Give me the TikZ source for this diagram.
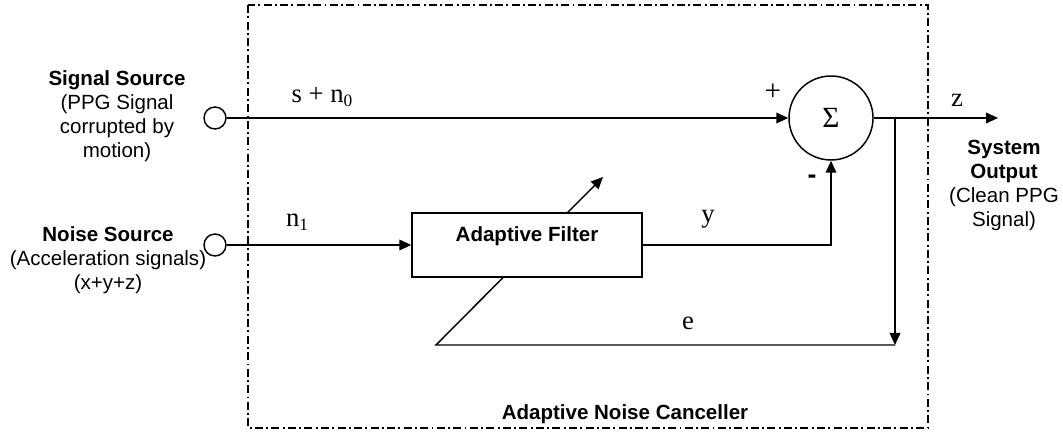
\documentclass[tikz,border=0pt]{standalone}
\usepackage{fontspec}
\setmainfont{Liberation Sans}
\newfontfamily\serifface{Liberation Serif}
\usetikzlibrary{arrows.meta}
\begin{document}
\begin{tikzpicture}[x=0.75pt,y=-0.75pt,
  line width=1.1pt,
  arr/.style={-{Triangle[length=9pt,width=8pt]}},
  port/.style={circle,draw,fill=white,minimum size=16.5pt,inner sep=0pt},
  sumnode/.style={circle,draw,fill=white,minimum size=63pt,inner sep=0pt,font=\fontsize{22}{24}\serifface},
  blockbox/.style={rectangle,draw,fill=white,minimum width=172.5pt,minimum height=48pt,inner sep=0pt},
  sans/.style={font=\fontsize{15.4}{18}\selectfont,align=center,inner sep=0pt},
  mlab/.style={font=\fontsize{20}{24}\serifface,inner sep=0pt},
  frame/.style={line width=0.9pt,dash pattern=on 6pt off 2.5pt on 1.4pt off 2.5pt}
]
\useasboundingbox (0,0) rectangle (1063,434);
% frame
\draw[frame] (248,5) rectangle (928,428);
% coordinates
\coordinate (out) at (998,118);
\coordinate (j) at (895,118);
\coordinate (ec) at (895,345);
\coordinate (el) at (436,345);
\coordinate (tip) at (603,177);
% adaptation path (drawn first, the filter box covers it)
\draw[arr] (j) -- (ec);
\draw[arr] (ec) -- (el) -- (tip);
% nodes
\node[port] (src) at (215,118) {};
\node[port] (noise) at (215,245) {};
\node[sumnode] (sum) at (831,118) {Σ};
\node[blockbox] (filt) at (527,245) {};
\node[sans,font=\fontsize{15.4}{18}\selectfont\bfseries] (filtlab) at (527,236) {Adaptive Filter};
% text blocks
\node[sans] (srclab) at (117,116) {\textbf{Signal Source}\\(PPG Signal\\corrupted by\\motion)};
\node[sans] (noiselab) at (108,260) {\textbf{Noise Source}\\(Acceleration signals)\\(x+y+z)};
\node[sans] (outlab) at (1004,185) {\textbf{System}\\\textbf{Output}\\(Clean PPG\\Signal)};
\node[sans,font=\fontsize{15.4}{18}\selectfont\bfseries] (anclab) at (625,414) {Adaptive Noise Canceller};
% signal labels
\node[mlab] (lsn) at (322,97) {s + n\raisebox{-0.35ex}{\fontsize{13}{13}\selectfont 0}};
\node[mlab] (ln1) at (297,222) {n\raisebox{-0.35ex}{\fontsize{13}{13}\selectfont 1}};
\node[mlab] (ly) at (708,219) {y};
\node[mlab] (lz) at (957,100) {z};
\node[mlab] (le) at (688,323) {e};
\node[mlab,font=\fontsize{22}{24}\serifface] (lplus) at (773,92) {+};
\node[sans,font=\fontsize{20}{20}\selectfont\bfseries] (lminus) at (812,179) {-};
% connectors
\draw[arr] (src) -- (sum);
\draw[arr] (noise) -- (filt);
\draw[arr] (filt.east) -- (filt.east -| sum.south) -- (sum.south);
\draw[arr] (sum.east) -- (out);
\end{tikzpicture}
\end{document}
